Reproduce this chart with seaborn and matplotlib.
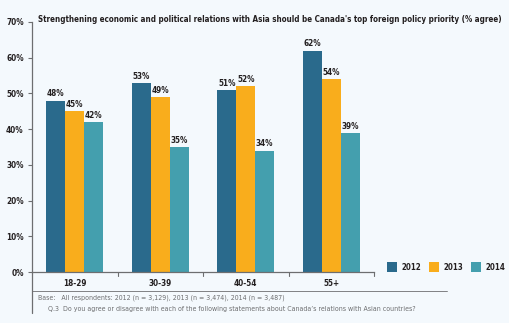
import matplotlib
matplotlib.use("Agg")
import matplotlib.pyplot as plt
from matplotlib.lines import Line2D
from matplotlib.patches import Rectangle
import seaborn as sns
import pandas as pd

age_groups = ["18-29", "30-39", "40-54", "55+"]
years = ["2012", "2013", "2014"]
agree_2012 = [48, 53, 51, 62]
agree_2013 = [45, 49, 52, 54]
agree_2014 = [42, 35, 34, 39]
y_ticks = [0, 10, 20, 30, 40, 50, 60, 70]

title = "Strengthening economic and political relations with Asia should be Canada's top foreign policy priority (% agree)"
note_base = "Base:   All respondents: 2012 (n = 3,129), 2013 (n = 3,474), 2014 (n = 3,487)"
note_q = "Q.3  Do you agree or disagree with each of the following statements about Canada\u2019s relations with Asian countries?"

palette = {"2012": "#2a6a8c", "2013": "#f9ad1c", "2014": "#449fae"}
bg = "#f4f9fd"
ink = "#231f20"
grey = "#6d6e70"

df = pd.DataFrame({
    "age": age_groups * 3,
    "year": [y for y in years for _ in age_groups],
    "pct": agree_2012 + agree_2013 + agree_2014,
})

sns.set_theme(style="white")
plt.rcParams["font.family"] = ["DejaVu Sans"]
plt.rcParams["font.stretch"] = "condensed"

W, H = 509, 323
fig = plt.figure(figsize=(W / 100, H / 100), dpi=100, facecolor=bg)
ax = fig.add_axes([32 / W, (H - 272) / H, 342 / W, 250 / H], facecolor=bg)

sns.barplot(data=df, x="age", y="pct", hue="year", palette=palette,
            width=0.667, saturation=1, linewidth=0, ax=ax, legend=False)

for cont in ax.containers:
    ax.bar_label(cont, fmt="%d%%", padding=1.5, fontsize=5.9,
                 fontweight="bold", color=ink)

ax.set_ylim(0, 70)
ax.set_xlim(-0.5, 3.5)
ax.set_yticks(y_ticks)
ax.set_yticklabels([f"{v}%" for v in y_ticks], fontsize=5.9,
                   fontweight="bold", color=ink)
ax.set_xticks(range(len(age_groups)))
ax.set_xticklabels(age_groups, fontsize=5.9, fontweight="bold", color=ink)
ax.set_xlabel("")
ax.set_ylabel("")
ax.tick_params(axis="y", length=3, width=0.8, color=grey, pad=3, left=True)
ax.tick_params(axis="x", length=0, pad=5)

# group boundary ticks below the baseline
for b in [0.5, 1.5, 2.5, 3.5]:
    ax.plot([b, b], [0, -1.2], color=grey, lw=0.8, clip_on=False)

for side in ["top", "right"]:
    ax.spines[side].set_visible(False)
for side in ["left", "bottom"]:
    ax.spines[side].set_color(grey)
    ax.spines[side].set_linewidth(0.9)

# left rule continues down beside the notes; separator above the notes
fig.add_artist(Line2D([32 / W, 32 / W], [(H - 313) / H, (H - 272) / H],
                      color=grey, lw=0.9))
fig.add_artist(Line2D([32 / W, 447 / W], [(H - 291) / H, (H - 291) / H],
                      color=grey, lw=0.6))

fig.text(38 / W, (H - 20) / H, title, fontsize=5.8, fontweight="bold",
         color=ink, va="center", ha="left")

fig.text(38 / W, (H - 298) / H, note_base, fontsize=5.0, color=grey,
         va="center", ha="left")
fig.text(48 / W, (H - 309) / H, note_q, fontsize=5.0, color=grey,
         va="center", ha="left")

# legend
for i, yr in enumerate(years):
    x0 = 387 + i * 42
    fig.add_artist(Rectangle((x0 / W, (H - 272) / H), 10 / W, 10 / H,
                             transform=fig.transFigure, facecolor=palette[yr],
                             edgecolor="none"))
    fig.text((x0 + 14) / W, (H - 267) / H, yr, fontsize=5.7,
             fontweight="bold", color=ink, va="center", ha="left")

fig.savefig("out.png", dpi=100, facecolor=bg)
